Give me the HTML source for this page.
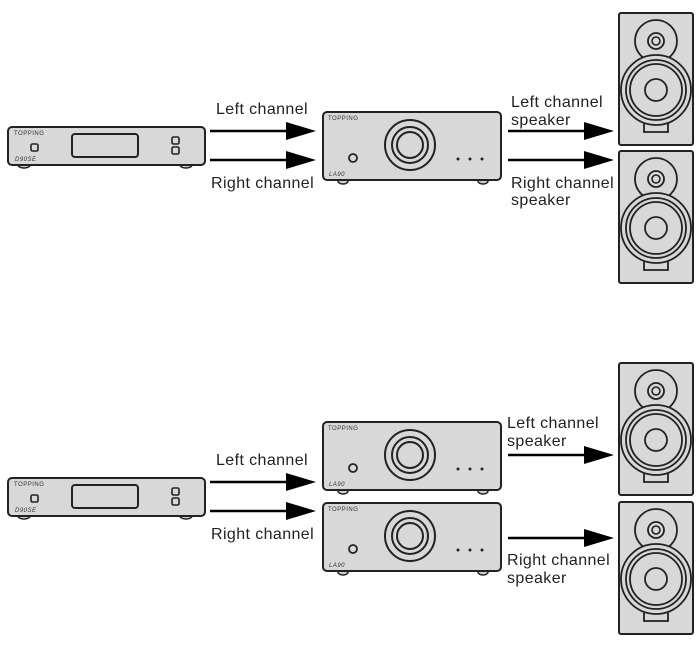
<!DOCTYPE html>
<html><head><style>
body{margin:0;background:#fff;width:700px;height:650px;overflow:hidden}
text{font-family:"Liberation Sans",sans-serif;font-size:16px;fill:#222;letter-spacing:0.4px}
text.s{font-size:6px;letter-spacing:0.5px;fill:#333}
</style></head><body>
<svg width="700" height="650" viewBox="0 0 700 650" xmlns="http://www.w3.org/2000/svg">
<defs>
<g id="dac">
<ellipse cx="16" cy="38" rx="6" ry="3" fill="#ccc" stroke="#222" stroke-width="1.5"/>
<ellipse cx="178" cy="38" rx="6" ry="3" fill="#ccc" stroke="#222" stroke-width="1.5"/>
<rect x="0" y="0" width="197" height="38" rx="4" fill="#d8d8d8" stroke="#222" stroke-width="2"/>
<rect x="64" y="7" width="66" height="23" rx="3" fill="none" stroke="#222" stroke-width="2"/>
<rect x="23" y="17" width="7" height="7" rx="1.5" fill="none" stroke="#222" stroke-width="1.6"/>
<rect x="164" y="10" width="7" height="7" rx="1.5" fill="none" stroke="#222" stroke-width="1.6"/>
<rect x="164" y="20" width="7" height="7" rx="1.5" fill="none" stroke="#222" stroke-width="1.6"/>
<text class="s" x="6" y="8">TOPPING</text>
<text class="s" x="7" y="34" font-style="italic">D90SE</text>
</g>
<g id="amp">
<ellipse cx="20" cy="69" rx="5" ry="3" fill="#ccc" stroke="#222" stroke-width="1.5"/>
<ellipse cx="160" cy="69" rx="5" ry="3" fill="#ccc" stroke="#222" stroke-width="1.5"/>
<rect x="0" y="0" width="178" height="68" rx="4" fill="#d8d8d8" stroke="#222" stroke-width="2"/>
<circle cx="87" cy="33" r="25" fill="none" stroke="#222" stroke-width="2"/>
<circle cx="87" cy="33" r="18" fill="none" stroke="#222" stroke-width="2"/>
<circle cx="87" cy="33" r="13" fill="none" stroke="#222" stroke-width="2"/>
<circle cx="30" cy="46" r="4" fill="none" stroke="#222" stroke-width="1.8"/>
<circle cx="135" cy="47" r="1.5" fill="#222"/><circle cx="147" cy="47" r="1.5" fill="#222"/><circle cx="159" cy="47" r="1.5" fill="#222"/>
<text class="s" x="5" y="8">TOPPING</text>
<text class="s" x="6" y="64" font-style="italic">LA90</text>
</g>
<g id="spk">
<rect x="0" y="0" width="74" height="132" rx="2" fill="#d8d8d8" stroke="#222" stroke-width="2"/>
<circle cx="37" cy="28" r="21" fill="#d8d8d8" stroke="#222" stroke-width="1.8"/>
<circle cx="37" cy="28" r="8" fill="none" stroke="#222" stroke-width="1.8"/>
<circle cx="37" cy="28" r="4" fill="none" stroke="#222" stroke-width="1.6"/>
<path d="M25 92 L25 119 L49 119 L49 92" fill="#d8d8d8" stroke="#222" stroke-width="1.8"/>
<circle cx="37" cy="77" r="35" fill="#d8d8d8" stroke="#222" stroke-width="1.8"/>
<circle cx="37" cy="77" r="30" fill="none" stroke="#222" stroke-width="1.8"/>
<circle cx="37" cy="77" r="26" fill="none" stroke="#222" stroke-width="1.8"/>
<circle cx="37" cy="77" r="11" fill="none" stroke="#222" stroke-width="1.8"/>
</g>
<g id="arr"><line x1="0" y1="0" x2="78" y2="0" stroke="#000" stroke-width="2.5"/><polygon points="76,-9 106,0 76,9" fill="#000"/></g>
</defs>

<use href="#dac" x="8" y="127"/>
<use href="#amp" x="323" y="112"/>
<use href="#spk" x="619" y="13"/>
<use href="#spk" x="619" y="151"/>
<use href="#arr" x="210" y="131"/>
<use href="#arr" x="210" y="160"/>
<use href="#arr" x="508" y="131"/>
<use href="#arr" x="508" y="160"/>
<text x="216" y="114">Left channel</text>
<text x="211" y="188">Right channel</text>
<text x="511" y="107">Left channel</text>
<text x="511" y="125">speaker</text>
<text x="511" y="188">Right channel</text>
<text x="511" y="205">speaker</text>

<use href="#dac" x="8" y="478"/>
<use href="#amp" x="323" y="422"/>
<use href="#amp" x="323" y="503"/>
<use href="#spk" x="619" y="363"/>
<use href="#spk" x="619" y="502"/>
<use href="#arr" x="210" y="482"/>
<use href="#arr" x="210" y="511"/>
<use href="#arr" x="508" y="455"/>
<use href="#arr" x="508" y="538"/>
<text x="216" y="465">Left channel</text>
<text x="211" y="539">Right channel</text>
<text x="507" y="428">Left channel</text>
<text x="507" y="446">speaker</text>
<text x="507" y="565">Right channel</text>
<text x="507" y="583">speaker</text>
</svg>
</body></html>
